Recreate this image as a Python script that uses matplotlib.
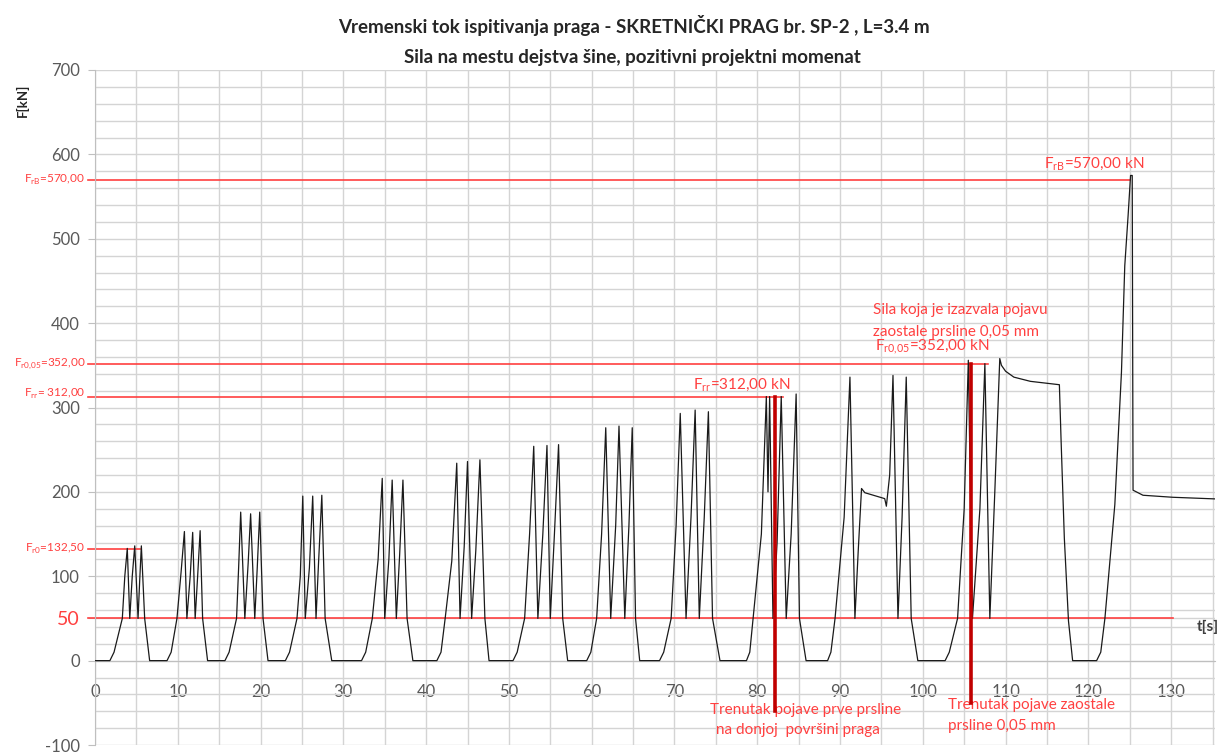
import matplotlib
matplotlib.use("Agg")
import matplotlib.pyplot as plt
from matplotlib.ticker import MultipleLocator

plt.rcParams['font.family'] = ['Lato', 'DejaVu Sans']

# t[s] i F[kN] ocitano sa dijagrama, blok po blok
vreme = [
    0, 1.8, 2.3, 3.3, 3.6, 3.9, 4.2, 4.5, 4.8, 5.2, 5.4, 5.6, 6.0, 6.6,
    8.7, 9.2, 9.9, 10.4, 10.8, 11.1, 11.5, 11.8, 12.1, 12.4, 12.7, 13.0, 13.6,
    15.7, 16.2, 17.1, 17.35, 17.6, 18.1, 18.5, 18.8, 19.3, 19.6, 19.9, 20.3, 20.9,
    23.0, 23.5, 24.4, 24.8, 25.1, 25.4, 25.9, 26.3, 26.7, 27.0, 27.4, 27.8, 28.6,
    32.2, 32.7, 33.5, 34.2, 34.7, 35.0, 35.5, 35.9, 36.4, 36.8, 37.2, 37.7, 38.4,
    41.3, 41.8, 42.3, 43.1, 43.7, 44.1, 44.6, 45.0, 45.5, 46.0, 46.5, 47.1, 47.6,
    50.5, 51.0, 51.9, 52.5, 53.0, 53.5, 54.1, 54.6, 55.0, 55.5, 56.0, 56.5, 57.1,
    59.4, 59.9, 60.6, 61.2, 61.7, 62.3, 62.9, 63.3, 64.0, 64.5, 64.9, 65.3, 65.8,
    68.2, 68.7, 69.6, 70.2, 70.7, 71.4, 72.0, 72.5, 73.0, 73.6, 74.1, 74.6, 75.5,
    78.7, 79.1, 79.5, 80.5, 81.1, 81.3, 81.5, 81.9, 82.4, 82.9, 83.5, 84.1, 84.7, 85.1, 85.9,
    88.5, 88.9, 89.4, 90.5, 91.2, 91.8, 92.2, 92.6, 93.0, 95.4, 95.6, 96.0, 96.4, 97.0,
    97.5, 98.0, 98.6, 99.4,
    102.7, 103.2, 104.2, 105.0, 105.5, 106.0, 106.9, 107.5, 108.1, 108.7, 109.3, 109.5,
    110.0, 111.0, 113.0, 116.5, 116.7, 117.1, 117.6, 118.1, 121.0, 121.5, 122.0, 123.2,
    124.0, 124.4, 124.8, 125.1, 125.3, 125.4, 126.6, 130.2, 135.5,
]
sila = [
    0, 0, 10, 50, 100, 133, 50, 100, 136, 50, 95, 136, 50, 0,
    0, 10, 50, 105, 153, 50, 100, 152, 50, 100, 154, 50, 0,
    0, 10, 50, 110, 176, 50, 115, 174, 50, 110, 176, 50, 0,
    0, 10, 50, 100, 195, 50, 110, 195, 50, 115, 196, 50, 0,
    0, 10, 50, 120, 216, 50, 120, 214, 50, 125, 214, 50, 0,
    0, 10, 50, 118, 234, 50, 135, 236, 50, 130, 238, 50, 0,
    0, 10, 50, 150, 254, 50, 150, 255, 50, 150, 256, 50, 0,
    0, 10, 50, 150, 276, 50, 160, 278, 50, 160, 276, 50, 0,
    0, 10, 50, 160, 293, 50, 170, 297, 50, 170, 295, 50, 0,
    0, 10, 50, 150, 313, 200, 313, 50, 140, 313, 50, 150, 316, 50, 0,
    0, 10, 50, 170, 336, 50, 130, 204, 199, 192, 183, 220, 338, 50,
    170, 336, 50, 0,
    0, 10, 50, 180, 356, 50, 180, 352, 50, 200, 358, 350,
    343, 336, 331, 327, 263, 145, 47, 0, 0, 10, 50, 185,
    342, 468, 527, 575, 575, 202, 196, 193.6, 191.6,
]

# karakteristicne sile (horizontalne crvene linije)
nivoi = [570, 352, 312, 132.5, 50]
kraj_nivoa = [125.0, 107.9, 83.1, 5.4, 130.2]
oznake_levo = [r'F$_{\mathregular{rB}}$=570,00', r'F$_{\mathregular{r0{,}05}}$=352,00',
               r'F$_{\mathregular{rr}}$= 312,00', r'F$_{\mathregular{r0}}$=132,50']
visina_oznake = [570, 352, 316, 132.5]

# trenuci pojave prslina (vertikalne linije)
t_prsline = [82.1, 105.8]
f_prsline = [312, 352]
dno_prsline = [-60, -50]

crvena = '#ff4040'
siva = '#595959'

fig = plt.figure(figsize=(12.2, 7.53), dpi=100)
ax = fig.add_axes([95 / 1220, 1 - 745 / 753, 1120 / 1220, 675 / 753])

ax.set_xlim(0, 135.3)
ax.set_ylim(-100, 700)
ax.xaxis.set_minor_locator(MultipleLocator(5))
ax.yaxis.set_minor_locator(MultipleLocator(20))
ax.set_xticks(range(0, 131, 10))
yt = [-100, 0, 50, 100, 200, 300, 400, 500, 600, 700]
ax.set_yticks(yt)
ax.set_yticklabels([str(v) for v in yt])
ax.grid(True, which='both', color='#d4d4d4', linewidth=1.0)
ax.set_axisbelow(True)

for s in ['top', 'right']:
    ax.spines[s].set_visible(False)
ax.spines['left'].set_color('#bfbfbf')
ax.spines['bottom'].set_position(('data', 0))
ax.spines['bottom'].set_color('#bfbfbf')
ax.tick_params(axis='x', length=0, pad=17, labelsize=12, labelcolor=siva)
ax.tick_params(axis='y', which='major', length=5, color='#bfbfbf', pad=6,
               labelsize=12, labelcolor=siva)
ax.tick_params(which='minor', length=0)
for lab in ax.get_yticklabels():
    if lab.get_text() == '50':
        lab.set_color(crvena)
        lab.set_fontsize(14)

# dijagram sile
ax.plot(vreme, sila, color='#1a1a1a', linewidth=0.9, zorder=3)

for v, k in zip(nivoi, kraj_nivoa):
    ax.plot([-0.9, k], [v, v], color=crvena, linewidth=1.2, clip_on=False, zorder=2)
for v, lab in zip(visina_oznake, oznake_levo):
    ax.text(-1.2, v, lab, color=crvena, fontsize=8.5, ha='right', va='center', clip_on=False)

for t, f, d in zip(t_prsline, f_prsline, dno_prsline):
    ax.plot([t, t], [d, f], color='#c00000', linewidth=2.6, zorder=4)

# natpisi
ax.text(114.7, 588, r'F$_{\mathregular{rB}}$=570,00 kN', color=crvena, fontsize=11, va='center')
ax.text(72.2, 326, r'F$_{\mathregular{rr}}$=312,00 kN', color=crvena, fontsize=11, va='center')
ax.text(94.2, 372, r'F$_{\mathregular{r0{,}05}}$=352,00 kN', color=crvena, fontsize=11, va='center')
ax.text(94.0, 416, 'Sila koja je izazvala pojavu', color=crvena, fontsize=11, va='center')
ax.text(94.0, 389, 'zaostale prsline 0,05 mm', color=crvena, fontsize=11, va='center')
ax.text(74.3, -59, 'Trenutak pojave prve prsline', color=crvena, fontsize=11, va='center')
ax.text(74.5, -82, ' na donjoj  površini praga', color=crvena, fontsize=11, va='center')
ax.text(103.0, -53, 'Trenutak pojave zaostale', color=crvena, fontsize=11, va='center')
ax.text(103.0, -77, 'prsline 0,05 mm', color=crvena, fontsize=11, va='center')

fig.text(0.52, 1 - 25 / 753, 'Vremenski tok ispitivanja praga - SKRETNIČKI PRAG br. SP-2 , L=3.4 m',
         ha='center', va='center', fontsize=13.5, fontweight='bold', color='#262626')
fig.text(0.518, 1 - 57 / 753, 'Sila na mestu dejstva šine, pozitivni projektni momenat',
         ha='center', va='center', fontsize=13.5, fontweight='bold', color='#262626')
fig.text(22 / 1220, 1 - 100 / 753, 'F[kN]', rotation=90, ha='center', va='center',
         fontsize=9.5, fontweight='bold', color='#262626')
fig.text(1219 / 1220, 1 - 627 / 753, 't[s]', ha='right', va='center',
         fontsize=11, fontweight='bold', color='#404040')

fig.savefig('out.png', dpi=100)
